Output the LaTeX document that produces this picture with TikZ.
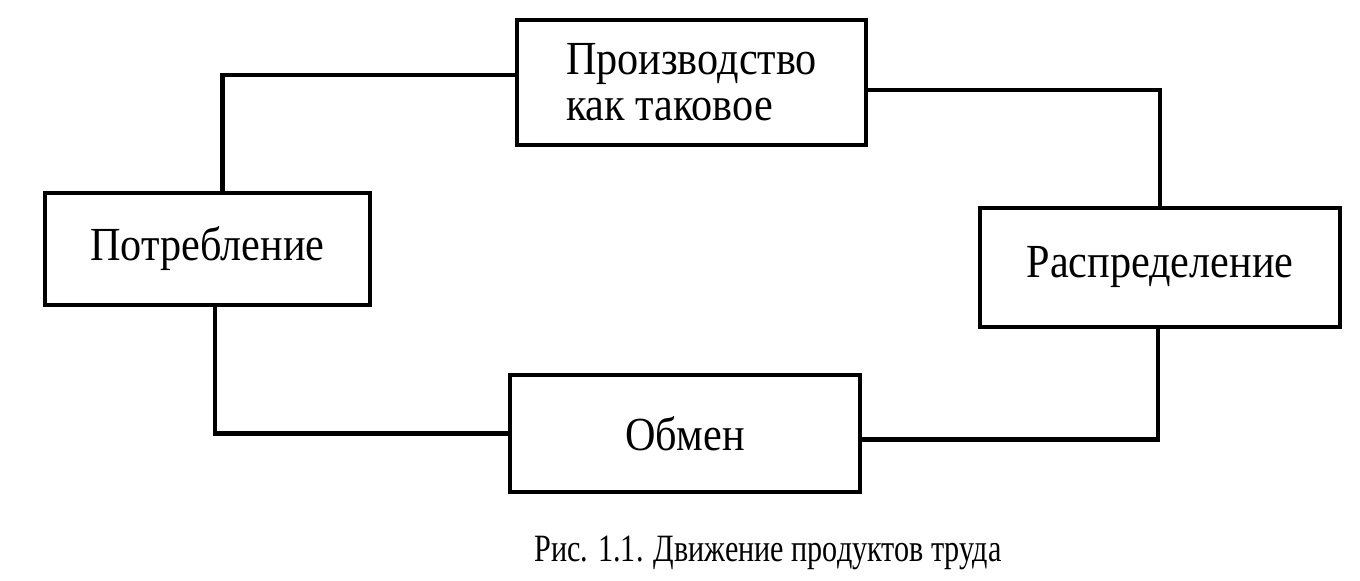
\documentclass[tikz,border=0pt]{standalone}
\usepackage{fontspec}
\setmainfont{Liberation Serif}[FakeStretch=0.89]
\newfontfamily\capfont{Liberation Serif}[FakeStretch=0.78]

\begin{document}
\begin{tikzpicture}[every node/.style={font=\fontsize{13.5}{13}\selectfont,align=left},
  b/.style={draw,line width=1.2pt,inner sep=0pt},
  l/.style={draw,line width=1.2pt}]
  \useasboundingbox (0,0) rectangle (13.6,-5.8);
  \node[b,minimum width=3.49cm,minimum height=1.25cm] (prod) at (6.915,-0.825) {Производство\\как таковое};
  \node[b,minimum width=3.25cm,minimum height=1.12cm] (potr) at (2.075,-2.49) {Потребление};
  \node[b,minimum width=3.6cm,minimum height=1.19cm] (rasp) at (11.6,-2.675) {Распределение};
  \node[b,minimum width=3.5cm,minimum height=1.17cm] (obm) at (6.85,-4.335) {Обмен};
  \draw[l] ([yshift=0.075cm]prod.west) -| ([xshift=0.15cm]potr.north);
  \draw[l] ([yshift=-0.075cm]prod.east) -| (rasp.north);
  \draw[l] ([xshift=0.075cm]potr.south) |- (obm.west);
  \draw[l] ([xshift=-0.02cm]rasp.south) |- ([yshift=-0.06cm]obm.east);
  \node[font=\capfont\fontsize{11}{12}\selectfont] (cap) at (7.68,-5.53) {Рис. 1.1. Движение продуктов труда};
\end{tikzpicture}
\end{document}
